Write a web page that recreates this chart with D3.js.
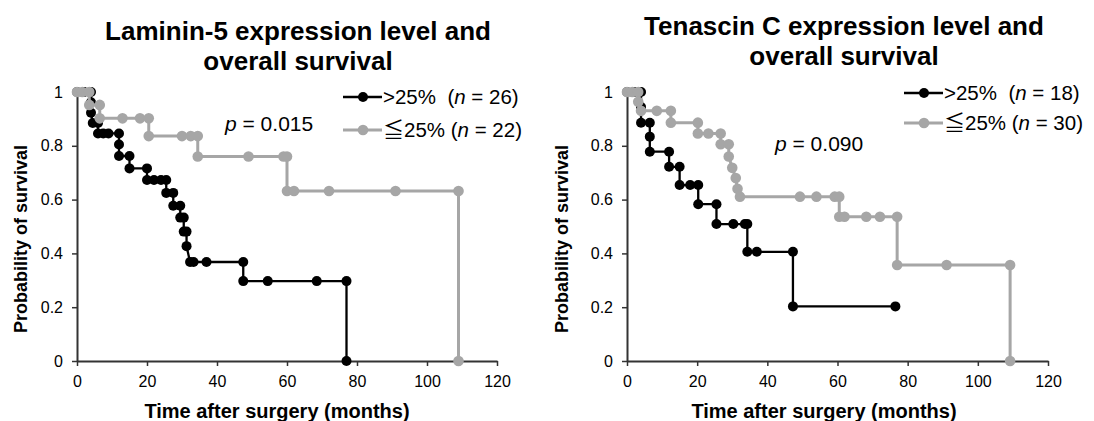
<!DOCTYPE html>
<html><head><meta charset="utf-8">
<script src="https://cdn.jsdelivr.net/npm/d3@7/dist/d3.min.js"></script>
<style>
body{margin:0;background:#fff}
svg{display:block}
text{font-family:"Liberation Sans",Arial,Helvetica,sans-serif;fill:#000}
.pre{white-space:pre}
</style>
</head><body>
<svg id="chart" width="1094" height="421"></svg>
<script>
// ---- data ----
const xTicks = [0, 20, 40, 60, 80, 100, 120];
const yTicks = [0, 0.2, 0.4, 0.6, 0.8, 1];
const yTickLabels = ["0", "0.2", "0.4", "0.6", "0.8", "1"];

// Laminin-5, >25% (n = 26)
const lamHighT = [0, 2, 4, 4, 4, 4.5, 6, 6, 7.5, 9, 12, 12, 12, 15, 15, 20, 20, 22, 24, 25.5, 25.5, 27.5, 27.5, 29.5, 29.5, 30.5, 30.5, 31.3, 31.3, 32.3, 33.3, 37, 47.5, 47.5, 54.5, 68.5, 77, 77];
const lamHighS = [1, 1, 1, 0.962, 0.923, 0.885, 0.885, 0.846, 0.846, 0.846, 0.846, 0.805, 0.762, 0.762, 0.716, 0.716, 0.673, 0.673, 0.673, 0.673, 0.625, 0.625, 0.577, 0.577, 0.533, 0.533, 0.481, 0.481, 0.427, 0.368, 0.368, 0.368, 0.368, 0.297, 0.297, 0.297, 0.297, 0];
// Laminin-5, <=25% (n = 22)
const lamLowT = [0, 1.5, 3.5, 3.5, 6.5, 6.5, 13, 18, 20.5, 20.5, 30, 32.5, 34.5, 34.5, 49, 59, 60, 60, 62, 72, 91, 109, 109];
const lamLowS = [1, 1, 1, 0.952, 0.952, 0.902, 0.902, 0.902, 0.902, 0.836, 0.836, 0.836, 0.836, 0.76, 0.76, 0.76, 0.76, 0.632, 0.632, 0.632, 0.632, 0.632, 0];
// Tenascin C, >25% (n = 18)
const tenHighT = [0, 2, 4, 4, 4, 6.5, 6.5, 6.5, 12, 12, 15, 15, 18, 20.3, 20.3, 25.5, 25.5, 30.3, 33.6, 34.3, 34.3, 37, 47.3, 47.3, 76.5];
const tenHighS = [1, 1, 1, 0.944, 0.886, 0.886, 0.834, 0.778, 0.778, 0.722, 0.722, 0.654, 0.654, 0.654, 0.583, 0.583, 0.509, 0.509, 0.509, 0.509, 0.406, 0.406, 0.406, 0.203, 0.203];
// Tenascin C, <=25% (n = 30)
const tenLowT = [0, 1.5, 3.2, 3.2, 4, 8.5, 12.5, 12.5, 20.2, 20.2, 23.2, 26.7, 26.7, 29, 29, 30, 31, 31.5, 32.2, 49.3, 54, 59.2, 60.5, 60.5, 62, 68.2, 72.1, 77, 77, 91.1, 109.2, 109.2];
const tenLowS = [1, 1, 1, 0.964, 0.93, 0.93, 0.93, 0.886, 0.886, 0.846, 0.846, 0.846, 0.806, 0.806, 0.76, 0.718, 0.68, 0.64, 0.611, 0.611, 0.611, 0.611, 0.611, 0.536, 0.536, 0.536, 0.536, 0.536, 0.357, 0.357, 0.357, 0];

const legendHighLabel = ">25%  (";
const legendLowLabel = "\u226625% (";

// ---- panels ----
const panels = [
  { title: ["Laminin-5 expression level and", "overall survival"], titleX: 298, titleY: 40,
    x0: 77, x1: 497, pX: 225, pY: 131, pVal: "0.015",
    legX: 343, legY1: 97, legY2: 130, nHigh: 26, nLow: 22,
    yLabX: 27, xLabX: 277,
    high: [lamHighT, lamHighS], low: [lamLowT, lamLowS] },
  { title: ["Tenascin C expression level and", "overall survival"], titleX: 844, titleY: 35,
    x0: 627, x1: 1048, pX: 775, pY: 151, pVal: "0.090",
    legX: 904, legY1: 93, legY2: 123, nHigh: 18, nLow: 30,
    yLabX: 568, xLabX: 824,
    high: [tenHighT, tenHighS], low: [tenLowT, tenLowS] }
];

const svg = d3.select("#chart");
const yTop = 92, yBot = 361;
const axisColor = "#333";
const grayColor = "#a6a6a6";

panels.forEach(p => {
  const x = d3.scaleLinear().domain([0, 120]).range([p.x0, p.x1]);
  const y = d3.scaleLinear().domain([0, 1]).range([yBot, yTop]);
  const g = svg.append("g");

  // title
  const t = g.append("text").attr("x", p.titleX).attr("y", p.titleY)
    .attr("text-anchor", "middle").style("font-weight", "bold").style("font-size", "26px");
  p.title.forEach((line, i) => t.append("tspan").attr("x", p.titleX).attr("dy", i === 0 ? 0 : 30).text(line));

  // axes
  const xAxis = g.append("g").attr("transform", `translate(0,${yBot})`)
    .call(d3.axisBottom(x).tickValues(xTicks).tickSize(5).tickPadding(6).tickSizeOuter(0));
  const yAxis = g.append("g").attr("transform", `translate(${p.x0},0)`)
    .call(d3.axisLeft(y).tickValues(yTicks).tickFormat((d, i) => yTickLabels[i]).tickSize(5).tickPadding(9).tickSizeOuter(0));
  [xAxis, yAxis].forEach(a => {
    a.select(".domain").attr("stroke", axisColor).attr("stroke-width", 2);
    a.selectAll(".tick line").attr("stroke", axisColor).attr("stroke-width", 1.5);
    a.selectAll(".tick text").style("font-size", "16px").attr("fill", "#222")
      .style("font-family", '"Liberation Sans",Arial,sans-serif');
  });
  xAxis.selectAll(".tick text").attr("dy", "0.95em");

  // axis titles
  g.append("text").attr("x", p.xLabX).attr("y", 418).attr("text-anchor", "middle")
    .style("font-weight", "bold").style("font-size", "20px").text("Time after surgery (months)");
  g.append("text").attr("transform", `translate(${p.yLabX},239) rotate(-90)`).attr("text-anchor", "middle")
    .style("font-weight", "bold").style("font-size", "18px").text("Probability of survival");

  // series
  const line = d3.line().x(d => x(d[0])).y(d => y(d[1]));
  const drawSeries = (ts, color, lw, r) => {
    const pts = ts[0].map((v, i) => [v, ts[1][i]]);
    g.append("path").datum(pts).attr("d", line).attr("fill", "none")
      .attr("stroke", color).attr("stroke-width", lw).attr("stroke-linejoin", "miter");
    g.selectAll(null).data(pts).enter().append("circle")
      .attr("cx", d => x(d[0])).attr("cy", d => y(d[1])).attr("r", r).attr("fill", color);
  };
  drawSeries(p.high, "#000", 2.3, 5);
  drawSeries(p.low, grayColor, 3, 5.3);

  // p value
  const pt = g.append("text").attr("x", p.pX).attr("y", p.pY).attr("class", "pre").style("font-size", "21px");
  pt.append("tspan").style("font-style", "italic").text("p");
  pt.append("tspan").text(" = " + p.pVal);

  // legend
  const legend = [
    { y: p.legY1, color: "#000", lw: 2.3, r: 5, label: legendHighLabel, n: p.nHigh },
    { y: p.legY2, color: grayColor, lw: 3, r: 5.3, label: legendLowLabel, n: p.nLow }
  ];
  legend.forEach(l => {
    g.append("line").attr("x1", p.legX).attr("x2", p.legX + 39).attr("y1", l.y).attr("y2", l.y)
      .attr("stroke", l.color).attr("stroke-width", l.lw);
    g.append("circle").attr("cx", p.legX + 20).attr("cy", l.y).attr("r", l.r).attr("fill", l.color);
    const lt = g.append("text").attr("x", p.legX + 40).attr("y", l.y + 7).attr("class", "pre").style("font-size", "20.5px");
    if (l.label.startsWith("\u2266")) {
      lt.append("tspan").style("font-family", '"Noto Sans CJK JP"').style("font-size", "21px").text("\u2266");
      lt.append("tspan").text(l.label.slice(1));
    } else {
      lt.append("tspan").text(l.label);
    }
    lt.append("tspan").style("font-style", "italic").text("n");
    lt.append("tspan").text(" = " + l.n + ")");
  });
});
</script>
</body></html>
